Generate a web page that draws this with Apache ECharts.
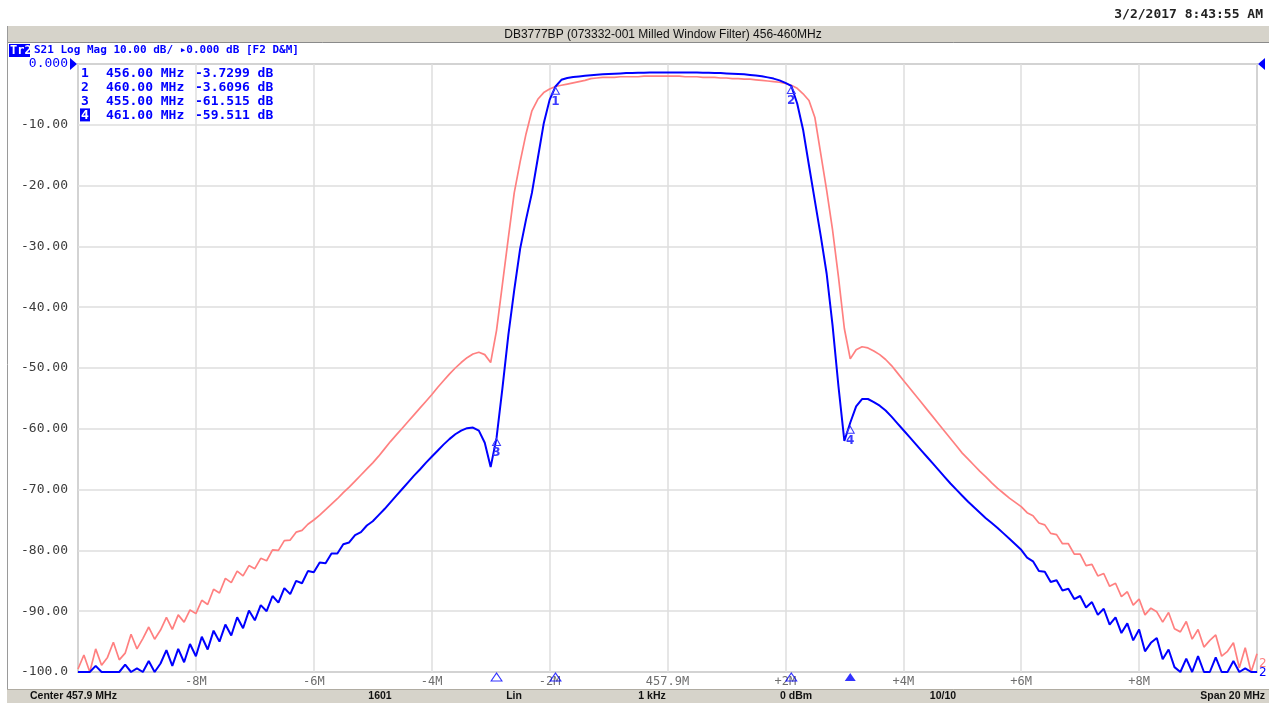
<!DOCTYPE html>
<html>
<head>
<meta charset="utf-8">
<script src="https://cdn.jsdelivr.net/npm/echarts@6/dist/echarts.min.js"></script>
<style>html,body{margin:0;padding:0;background:#fff;}#c{width:1270px;height:703px;}</style>
</head>
<body>
<div id="c"></div>
<script>
// ---------- DATA ----------
const centerMHz = 457.9;
const spanMHz = 20;
const freqOffsetMHz = [
-10.0,-9.9,-9.8,-9.7,-9.6,-9.5,-9.4,-9.3,-9.2,-9.1,
-9.0,-8.9,-8.8,-8.7,-8.6,-8.5,-8.4,-8.3,-8.2,-8.1,
-8.0,-7.9,-7.8,-7.7,-7.6,-7.5,-7.4,-7.3,-7.2,-7.1,
-7.0,-6.9,-6.8,-6.7,-6.6,-6.5,-6.4,-6.3,-6.2,-6.1,
-6.0,-5.9,-5.8,-5.7,-5.6,-5.5,-5.4,-5.3,-5.2,-5.1,
-5.0,-4.9,-4.8,-4.7,-4.6,-4.5,-4.4,-4.3,-4.2,-4.1,
-4.0,-3.9,-3.8,-3.7,-3.6,-3.5,-3.4,-3.3,-3.2,-3.1,
-3.0,-2.9,-2.8,-2.7,-2.6,-2.5,-2.4,-2.3,-2.2,-2.1,
-2.0,-1.9,-1.8,-1.7,-1.6,-1.5,-1.4,-1.3,-1.2,-1.1,
-1.0,-0.9,-0.8,-0.7,-0.6,-0.5,-0.4,-0.3,-0.2,-0.1,
0.0,0.1,0.2,0.3,0.4,0.5,0.6,0.7,0.8,0.9,
1.0,1.1,1.2,1.3,1.4,1.5,1.6,1.7,1.8,1.9,
2.0,2.1,2.2,2.3,2.4,2.5,2.6,2.7,2.8,2.9,
3.0,3.1,3.2,3.3,3.4,3.5,3.6,3.7,3.8,3.9,
4.0,4.1,4.2,4.3,4.4,4.5,4.6,4.7,4.8,4.9,
5.0,5.1,5.2,5.3,5.4,5.5,5.6,5.7,5.8,5.9,
6.0,6.1,6.2,6.3,6.4,6.5,6.6,6.7,6.8,6.9,
7.0,7.1,7.2,7.3,7.4,7.5,7.6,7.7,7.8,7.9,
8.0,8.1,8.2,8.3,8.4,8.5,8.6,8.7,8.8,8.9,
9.0,9.1,9.2,9.3,9.4,9.5,9.6,9.7,9.8,9.9,
10.0];
// red trace (dB)
const traceRedDb = [
-99.5,-97.2,-100,-96.2,-98.9,-97.6,-95.1,-98.0,-96.9,-93.8,
-96.2,-94.5,-92.6,-94.6,-93.1,-91.0,-93.0,-90.6,-91.8,-89.8,
-90.4,-88.2,-88.9,-86.4,-87.0,-84.6,-85.3,-83.4,-84.2,-82.5,
-83.0,-81.3,-81.7,-79.9,-80.0,-78.4,-78.3,-77.0,-76.7,-75.7,
-75.0,-74.2,-73.3,-72.4,-71.5,-70.5,-69.6,-68.6,-67.6,-66.6,
-65.6,-64.5,-63.3,-62.1,-61.0,-59.9,-58.8,-57.7,-56.6,-55.5,
-54.4,-53.2,-52.1,-51.0,-50.0,-49.1,-48.3,-47.7,-47.4,-47.8,
-49.1,-43.8,-36.2,-28.6,-21.2,-16.1,-11.5,-7.7,-5.8,-4.7,
-4.1,-3.7,-3.5,-3.3,-3.1,-2.9,-2.7,-2.4,-2.3,-2.2,
-2.2,-2.2,-2.1,-2.1,-2.1,-2.1,-2.0,-2.0,-2.0,-2.0,
-2.0,-2.0,-2.0,-2.1,-2.1,-2.1,-2.2,-2.2,-2.2,-2.3,
-2.3,-2.4,-2.4,-2.5,-2.5,-2.6,-2.7,-2.8,-2.9,-3.0,
-3.2,-3.5,-4.0,-4.9,-6.0,-8.8,-14.8,-20.8,-27.3,-35.0,
-43.5,-48.5,-47.0,-46.5,-46.7,-47.2,-47.8,-48.6,-49.6,-50.8,
-52.0,-53.2,-54.4,-55.6,-56.8,-58.0,-59.2,-60.4,-61.6,-62.8,
-64.0,-65.0,-66.0,-67.0,-67.9,-68.9,-69.8,-70.6,-71.4,-72.1,
-72.8,-73.8,-74.3,-75.5,-75.8,-77.2,-77.4,-78.9,-78.9,-80.6,
-80.6,-82.5,-82.3,-84.2,-83.8,-85.9,-85.4,-87.6,-86.8,-89.0,
-88.0,-90.6,-89.5,-90.1,-91.8,-90.2,-92.9,-93.4,-91.7,-94.6,
-93.0,-95.9,-94.8,-93.9,-97.4,-96.6,-95.2,-99.3,-96.0,-100,
-97.0];
// blue trace (dB) - active trace Tr2
const traceBlueDb = [
-100,-100,-100,-99.0,-100,-100,-100,-100,-98.8,-100,
-99.4,-100,-98.2,-100,-98.6,-96.4,-99.0,-96.2,-98.4,-95.4,
-97.4,-94.2,-96.3,-93.2,-95.0,-92.2,-94.0,-91.0,-92.8,-89.9,
-91.5,-89.0,-90.0,-87.5,-88.6,-86.2,-87.2,-85.0,-85.4,-83.4,
-83.6,-82.0,-82.1,-80.5,-80.5,-79.0,-78.7,-77.5,-77.0,-75.9,
-75.2,-74.2,-73.2,-72.1,-71.0,-69.9,-68.8,-67.7,-66.7,-65.6,
-64.6,-63.6,-62.6,-61.7,-60.9,-60.3,-59.9,-59.8,-60.3,-62.3,
-66.3,-61.5,-53.3,-44.6,-37.2,-30.4,-25.6,-21.2,-15.5,-9.8,
-5.9,-3.7,-2.6,-2.3,-2.15,-2.05,-1.95,-1.85,-1.75,-1.7,
-1.65,-1.6,-1.55,-1.5,-1.5,-1.45,-1.45,-1.4,-1.4,-1.4,
-1.4,-1.4,-1.4,-1.4,-1.4,-1.4,-1.45,-1.45,-1.5,-1.5,
-1.55,-1.6,-1.65,-1.7,-1.8,-1.9,-2.0,-2.2,-2.4,-2.7,
-3.1,-3.6,-6.5,-10.8,-16.7,-22.5,-28.3,-34.5,-43.0,-53.0,
-62.0,-59.0,-56.3,-55.1,-55.1,-55.6,-56.2,-57.0,-58.0,-59.1,
-60.2,-61.3,-62.4,-63.5,-64.6,-65.7,-66.8,-67.9,-69.0,-70.0,
-71.0,-72.0,-72.9,-73.8,-74.7,-75.5,-76.3,-77.2,-78.1,-79.0,
-79.9,-81.2,-81.8,-83.4,-83.5,-85.2,-84.9,-86.6,-86.3,-88.0,
-87.5,-89.4,-88.5,-90.6,-89.6,-92.2,-91.0,-93.6,-92.0,-94.8,
-93.0,-96.6,-95.2,-94.4,-97.9,-96.3,-99.2,-100,-97.8,-100,
-97.4,-100,-100,-97.6,-100,-100,-98.2,-100,-99.4,-100,
-100];
const markerIds = ['1','2','3','4'];
const markerFreqMHz = [456.00, 460.00, 455.00, 461.00];
const markerValDb = [-3.7299, -3.6096, -61.515, -59.511];
const markerFreqText = ['456.00 MHz','460.00 MHz','455.00 MHz','461.00 MHz'];
const markerValText = ['-3.7299 dB','-3.6096 dB','-61.515 dB','-59.511 dB'];
const yMin = -100, yMax = 0, yStep = 10;
const xStepMHz = 2;

// ---------- CHART ----------
const BLUE = '#0000ff';
const RED = '#ff8080';
const chart = echarts.init(document.getElementById('c'));
const off = f => +(f - centerMHz).toFixed(3);

const markerGraphics = [];
markerIds.forEach((id, i) => {
  const y = 74 + i * 13.8;
  if (i === 3) {
    markerGraphics.push({type:'rect', shape:{x:80, y:y-7, width:10, height:13}, style:{fill:BLUE}});
  }
  markerGraphics.push({type:'text', x:81, y:y, style:{text:id, fill: i===3 ? '#fff' : BLUE, font:'bold 13px "DejaVu Sans Mono"', verticalAlign:'middle'}});
  markerGraphics.push({type:'text', x:106, y:y, style:{text:markerFreqText[i], fill:BLUE, font:'bold 13px "DejaVu Sans Mono"', verticalAlign:'middle'}});
  markerGraphics.push({type:'text', x:195, y:y, style:{text:markerValText[i], fill:BLUE, font:'bold 13px "DejaVu Sans Mono"', verticalAlign:'middle'}});
});

const statusFont = 'bold 10.5px "Liberation Sans"';
const option = {
  animation: false,
  backgroundColor: '#ffffff',
  grid: {left:78, right:13, top:64, bottom:31, show:true, borderColor:'#9c9c9c', borderWidth:1.5},
  xAxis: {
    type:'value', min:-spanMHz/2, max:spanMHz/2, interval:xStepMHz,
    axisLine:{show:false}, axisTick:{show:false},
    splitLine:{show:true, lineStyle:{color:'#dedede', width:1.5}},
    axisLabel:{showMinLabel:false, showMaxLabel:false, margin:4, color:'#6e6e6e',
      fontFamily:'DejaVu Sans Mono', fontSize:12,
      formatter: v => v === 0 ? centerMHz.toFixed(1) + 'M' : (v > 0 ? '+' : '') + v + 'M'}
  },
  yAxis: {
    type:'value', min:yMin, max:yMax, interval:yStep,
    axisLine:{show:false}, axisTick:{show:false},
    splitLine:{show:true, lineStyle:{color:'#dedede', width:1.5}},
    axisLabel:{showMinLabel:true, showMaxLabel:true, margin:10, color:'#3c3c3c',
      fontFamily:'DejaVu Sans Mono', fontSize:13,
      formatter: v => v === 0 ? '{ref|0.000}' : (v === -100 ? '-100.0' : v.toFixed(2)),
      rich:{ref:{color:BLUE, fontFamily:'DejaVu Sans Mono', fontSize:13}}}
  },
  series: [
    {type:'line', name:'Tr1', data: freqOffsetMHz.map((f,i)=>[f, traceRedDb[i]]),
     showSymbol:false, symbol:'none', clip:false, silent:true, z:2,
     lineStyle:{color:RED, width:1.7}},
    {type:'line', name:'Tr2', data: freqOffsetMHz.map((f,i)=>[f, traceBlueDb[i]]),
     showSymbol:false, symbol:'none', clip:false, silent:true, z:3,
     lineStyle:{color:BLUE, width:2},
     markPoint:{silent:true, animation:false,
       data: markerIds.map((id,i)=>({
         coord:[off(markerFreqMHz[i]), markerValDb[i]],
         symbol:'triangle', symbolSize:[8,7], symbolOffset:[0,4],
         itemStyle:{color:'rgba(255,255,255,0)', borderColor:'#3a3aff', borderWidth:1},
         label:{show:true, formatter:id, position:'bottom', distance:1, color:'#3a3aff',
                fontSize:12, fontWeight:'bold', fontFamily:'DejaVu Sans'}
       }))}
    },
    {type:'scatter', name:'markers', clip:false, silent:true, z:10,
     symbol:'triangle', symbolSize:[11,8], symbolOffset:[0,5],
     data: markerIds.map((id,i)=>({
       value:[off(markerFreqMHz[i]), yMin],
       itemStyle: i===3 ? {color:BLUE} : {color:'rgba(255,255,255,0)', borderColor:BLUE, borderWidth:1}
     }))}
  ],
  graphic: [
    {type:'text', right:7, top:8, style:{text:'3/2/2017 8:43:55 AM', fill:'#222', font:'bold 13px "DejaVu Sans Mono"'}},
    {type:'rect', shape:{x:7, y:26, width:1262, height:17}, style:{fill:'#d6d3ca'}},
    {type:'line', shape:{x1:7, y1:42.5, x2:1269, y2:42.5}, style:{stroke:'#8a8a8a', lineWidth:1}},
    {type:'line', shape:{x1:7.5, y1:26, x2:7.5, y2:703}, style:{stroke:'#9a9a9a', lineWidth:1}},
    {type:'text', x:663, y:34.5, style:{text:'DB3777BP (073332-001 Milled Window Filter) 456-460MHz', fill:'#111', font:'12px "Liberation Sans"', align:'center', verticalAlign:'middle'}},
    {type:'rect', shape:{x:9, y:44, width:21, height:13}, style:{fill:BLUE}},
    {type:'text', x:10, y:50.5, style:{text:'Tr2', fill:'#fff', font:'bold 12px "DejaVu Sans Mono"', verticalAlign:'middle'}},
    {type:'text', x:34, y:50.5, style:{text:'S21 Log Mag 10.00 dB/ \u25B80.000 dB [F2 D&M]', fill:BLUE, font:'bold 11px "DejaVu Sans Mono"', verticalAlign:'middle'}},
    {type:'polygon', shape:{points:[[70,58],[77,64],[70,70]]}, style:{fill:BLUE}},
    {type:'polygon', shape:{points:[[1265,58],[1258,64],[1265,70]]}, style:{fill:BLUE}},
    {type:'text', x:1259, y:664, style:{text:'2', fill:RED, font:'12px "DejaVu Sans"', verticalAlign:'middle'}},
    {type:'text', x:1259, y:673, style:{text:'2', fill:BLUE, font:'12px "DejaVu Sans"', verticalAlign:'middle'}},
    ...markerGraphics,
    {type:'rect', shape:{x:7, y:689, width:1262, height:14}, style:{fill:'#d6d3ca'}},
    {type:'line', shape:{x1:7, y1:689.5, x2:1269, y2:689.5}, style:{stroke:'#b0aca2', lineWidth:1}},
    {type:'text', x:30, y:696, style:{text:'Center 457.9 MHz', fill:'#111', font:statusFont, verticalAlign:'middle'}},
    {type:'text', x:380, y:696, style:{text:'1601', fill:'#111', font:statusFont, align:'center', verticalAlign:'middle'}},
    {type:'text', x:514, y:696, style:{text:'Lin', fill:'#111', font:statusFont, align:'center', verticalAlign:'middle'}},
    {type:'text', x:652, y:696, style:{text:'1 kHz', fill:'#111', font:statusFont, align:'center', verticalAlign:'middle'}},
    {type:'text', x:796, y:696, style:{text:'0 dBm', fill:'#111', font:statusFont, align:'center', verticalAlign:'middle'}},
    {type:'text', x:943, y:696, style:{text:'10/10', fill:'#111', font:statusFont, align:'center', verticalAlign:'middle'}},
    {type:'text', x:1265, y:696, style:{text:'Span 20 MHz', fill:'#111', font:statusFont, align:'right', verticalAlign:'middle'}}
  ]
};
chart.setOption(option);
</script>
</body>
</html>
